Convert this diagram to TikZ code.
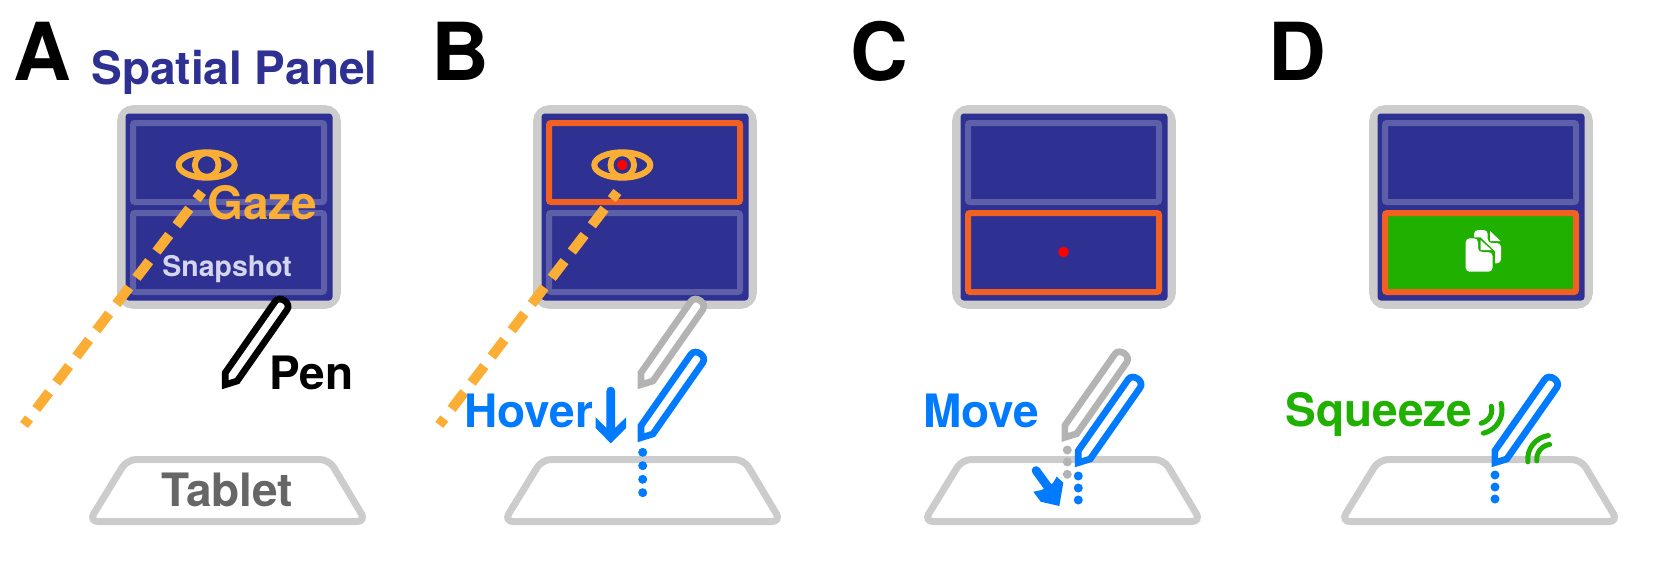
\documentclass[tikz,border=0pt]{standalone}
\usepackage{fontspec}
\setmainfont{TeX Gyre Heros}
\definecolor{frameGrey}{HTML}{CCCCCC}
\definecolor{navy}{HTML}{2E3192}
\definecolor{slot}{HTML}{5D5FA8}
\definecolor{accent}{HTML}{F26122}
\definecolor{gazeOrange}{HTML}{FBAE36}
\definecolor{penBlue}{HTML}{007AFF}
\definecolor{squeezeGreen}{HTML}{1FB000}
\definecolor{penGrey}{HTML}{B3B3B3}
\definecolor{tabletText}{HTML}{666666}
\definecolor{snapText}{HTML}{D5D5EE}
\newcommand{\sizedtext}[1]{\fontsize{\dimexpr#1pt*6/10\relax}{\dimexpr#1pt*6/10\relax}\selectfont\bfseries}
\tikzset{
  title/.style={inner sep=0pt,anchor=base west,text=black,font=\sizedtext{80}},
  label/.style={inner sep=0pt,anchor=base west,font=\sizedtext{46}},
  gazeline/.style={gazeOrange,line width=6pt,dash pattern=on 12.6pt off 7.2pt,dash phase=7.2pt},
  waveline/.style={squeezeGreen,line width=3pt,line cap=round},
  pics/stylus/.style={code={
    \draw[#1,line width=4pt,miter limit=10,fill=white]
      (0,0) -- (0,-12) -- (49.9,-83.3)
      .. controls (54.5,-89.8) and (66.4,-81.5) .. (61.8,-75)
      -- (11.9,-3.7) -- cycle;
  }},
  pics/panel/.style={code={
    \draw[frameGrey,line width=5.2pt,rounded corners=7pt]
      (121.5,109.5) rectangle (336.5,304.5);
    \fill[navy,rounded corners=2pt] (125.5,113.5) rectangle (332.5,300.5);
  }},
  slotbox/.style={slot,line width=3.6pt,rounded corners=1.2pt},
  activebox/.style={accent,line width=3.6pt,rounded corners=1.2pt},
  pics/tablet/.style={code={
    \draw[frameGrey,line width=4.2pt,rounded corners=5.5pt]
      (127,459.5) -- (329,459.5) -- (366,521.5) -- (89,521.5) -- cycle;
  }},
  pics/eye/.style={code={
    \draw[gazeOrange,line width=3.6pt] (0,0) ellipse [x radius=28,y radius=12.7];
    \draw[gazeOrange,line width=3.5pt] (0,0) circle [radius=11.8];
  }}
}
\begin{document}
\begin{tikzpicture}[x=0.6pt,y=-0.6pt]
\useasboundingbox (0,0) rectangle (1661,573);

% Panel A: the system overview
\pic at (0,0) {panel};
\draw[slotbox] (133,123) rectangle (324,202);
\draw[slotbox] (133,213) rectangle (324,292);
\pic at (206.7,165) {eye};
\coordinate (gazeAstart) at (202,192);
\coordinate (gazeAend) at (24,425);
\draw[gazeline] (gazeAstart) -- (gazeAend);
\pic at (0,0) {tablet};
\pic at (225.3,384.7) {stylus=black};
\node[title] (letterA) at (13,80) {A};
\node[label,text=navy] (spatial) at (91,84) {Spatial Panel};
\node[label,text=gazeOrange] (gaze) at (207,219) {Gaze};
\node[inner sep=0pt,anchor=base west,text=snapText,font=\sizedtext{28.5}] (snapshot) at (162,276.7) {Snapshot};
\node[label,text=black] (penlabel) at (269,389) {Pen};
\node[label,text=tabletText] (tabletlabel) at (161,506) {Tablet};

% Panel B: hovering selects the gazed section
\pic at (416,0) {panel};
\draw[slotbox] (549,213) rectangle (740,292);
\draw[activebox] (549,123) rectangle (740,202);
\pic at (622.3,165) {eye};
\fill[red] (622.3,165) circle [radius=5.3];
\coordinate (gazeBstart) at (617.3,192);
\coordinate (gazeBend) at (439.3,425);
\draw[gazeline] (gazeBstart) -- (gazeBend);
\pic at (415,0) {tablet};
\pic at (641,384.7) {stylus=penGrey};
\pic at (641,437.7) {stylus=penBlue};
\foreach \y in {452.3,465.7,479.3,492.7}
  \fill[penBlue] (642.7,\y) circle [radius=4.5];
\fill[penBlue] (606.4,391) arc [start angle=180,end angle=360,radius=4.35] -- (615.1,428) -- (626,417.3) -- (626,428) -- (610.7,443.3) -- (595.7,428) -- (595.7,417.3) -- (606.4,428) -- cycle;
\node[label,text=penBlue] (hover) at (464,427.7) {Hover};
\node[title] (letterB) at (431,80) {B};

% Panel C: moving the pen moves the pointer
\pic at (835,0) {panel};
\draw[slotbox] (968,123) rectangle (1159,202);
\draw[activebox] (968,213) rectangle (1159,292);
\fill[red] (1063.5,252) circle [radius=5.3];
\pic at (835,0) {tablet};
\pic at (1064.9,437.4) {stylus=penGrey};
\pic at (1078.3,462.7) {stylus=penBlue};
\foreach \y in {450,462,474.3}
  \fill[penGrey] (1067.3,\y) circle [radius=4.5];
\foreach \y in {476,488,500}
  \fill[penBlue] (1078.3,\y) circle [radius=4.5];
\draw[penBlue,line width=5.2pt,line cap=round] (1036,470.5) -- (1048,487);
\fill[penBlue] (1041.7,490) -- (1033.3,491.7) -- (1040.7,501.7) -- (1059.3,506) -- (1063.3,482.7) -- (1056.7,476.7) -- (1053,483) -- cycle;
\node[label,text=penBlue] (move) at (923,427.7) {Move};
\node[title] (letterC) at (850,80) {C};

% Panel D: squeezing copies the section
\pic at (1252,0) {panel};
\draw[slotbox] (1385,123) rectangle (1576,202);
\draw[activebox,fill=squeezeGreen] (1385,213) rectangle (1576,292);
% Copy icon: rear sheet, then front sheet edged in green
\fill[white,rounded corners=2.4pt] (1474,230) -- (1487.7,230) -- (1487.7,243) -- (1501,243) -- (1501,263.3) -- (1474,263.3) -- cycle;
\fill[white] (1490,231) -- (1500.5,241) -- (1490,241) -- cycle;
\draw[squeezeGreen,line width=1.2pt,fill=squeezeGreen] (1465.7,238.3) -- (1480,238.3) -- (1494,252) -- (1494,272.5) -- (1465.7,272.5) -- cycle;
\fill[white,rounded corners=2.4pt] (1465.7,238.3) -- (1478,238.3) -- (1478,252) -- (1492.5,252) -- (1492.5,271.7) -- (1465.7,271.7) -- cycle;
\fill[white] (1480.5,240) -- (1491.5,250) -- (1480.5,250) -- cycle;
\pic at (1252,0) {tablet};
\pic at (1494.9,462.7) {stylus=penBlue};
\foreach \y in {475,487,499}
  \fill[penBlue] (1495,\y) circle [radius=4.5];
\draw[waveline] (1478.3,410) ++(-16:23.7) arc [start angle=-16,end angle=78,radius=23.7];
\draw[waveline] (1478.3,410) ++(-16:13.5) arc [start angle=-16,end angle=78,radius=13.5];
\draw[waveline] (1551.7,459.3) ++(174:24) arc [start angle=174,end angle=262,radius=24];
\draw[waveline] (1551.7,459.3) ++(174:15) arc [start angle=174,end angle=262,radius=15];
\node[label,text=squeezeGreen] (squeeze) at (1285,426) {Squeeze};
\node[title] (letterD) at (1268,80) {D};
\end{tikzpicture}
\end{document}
